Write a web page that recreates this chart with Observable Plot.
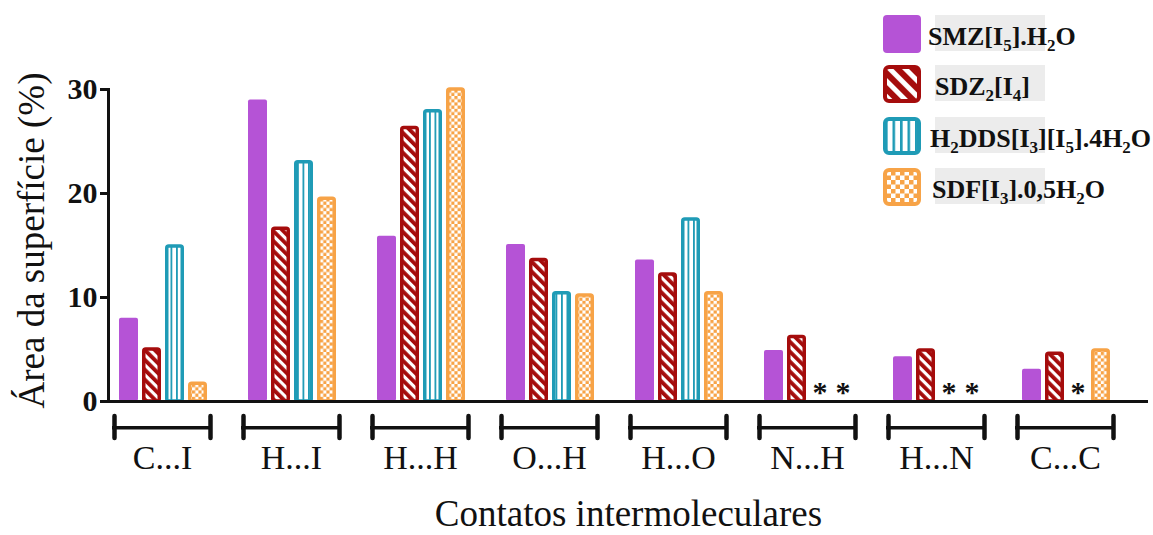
<!DOCTYPE html>
<html>
<head>
<meta charset="utf-8">
<script src="https://cdn.jsdelivr.net/npm/d3@7"></script>
<script src="https://cdn.jsdelivr.net/npm/@observablehq/plot@0.6"></script>
<style>
  body { margin: 0; background: #fff; }
  #chart { position: relative; width: 1153px; height: 535px; font-family: "Liberation Serif", "Times New Roman", serif; }
  #legend { position: absolute; left: 0; top: 0; pointer-events: none; }
</style>
</head>
<body>
<div id="chart"></div>
<script>
// Intermolecular contact categories (x groups)
const contacts = ["C...I", "H...I", "H...H", "O...H", "H...O", "N...H", "H...N", "C...C"];

// Series names; "_" marks the subscript digit that follows
const seriesNames = ["SMZ[I_5].H_2O", "SDZ_2[I_4]", "H_2DDS[I_3][I_5].4H_2O", "SDF[I_3].0,5H_2O"];

// Surface area (%) per contact; null = not observed (drawn as *)
const smz   = [8.0, 29.0, 15.9, 15.1, 13.6, 4.9, 4.3, 3.1];
const sdz   = [5.0, 16.6, 26.3, 13.6, 12.2, 6.2, 4.9, 4.6];
const h2dds = [14.9, 23.0, 27.9, 10.4, 17.5, null, null, null];
const sdf   = [1.7, 19.5, 30.0, 10.2, 10.4, null, null, 4.9];

const yTicks = [0, 10, 20, 30];
const yLabel = "Área da superfície (%)";
const xLabel = "Contatos intermoleculares";

// ---- styling ----
const purple = "#b553d6", red = "#a50c0c", teal = "#1f9bb6", orange = "#f7a347";
const groupStart = 110, groupStep = 129.5, groupWidth = 100;
const barOffsets = [7, 30, 53, 76], barW = 19, sw = 3.5;

const seriesValues = [smz, sdz, h2dds, sdf];
const rows = seriesValues.flatMap((vals, s) => vals.map((v, k) => ({c: contacts[k], s, v})));

function patternDefs() {
  const ns = "http://www.w3.org/2000/svg";
  const defs = document.createElementNS(ns, "defs");
  const hatch = (id, s) => `<pattern id="${id}" width="${s}" height="${s}" patternUnits="userSpaceOnUse" patternTransform="rotate(-45)">
      <rect width="${s}" height="${s}" fill="#fff"/><rect width="${s * 0.55}" height="${s}" fill="${red}"/></pattern>`;
  const vlines = (id, s, w) => `<pattern id="${id}" width="${s}" height="${s}" patternUnits="userSpaceOnUse">
      <rect width="${s}" height="${s}" fill="#fff"/><rect width="${w}" height="${s}" fill="${teal}"/></pattern>`;
  const checker = (id, c) => `<pattern id="${id}" width="${2 * c}" height="${2 * c}" patternUnits="userSpaceOnUse">
      <rect width="${2 * c}" height="${2 * c}" fill="#fff"/><rect width="${c}" height="${c}" fill="${orange}"/>
      <rect x="${c}" y="${c}" width="${c}" height="${c}" fill="${orange}"/></pattern>`;
  defs.innerHTML = hatch("hatch", 7) + vlines("vlines", 5.5, 1.8) + checker("checker", 3.2)
    + hatch("hatchL", 11) + vlines("vlinesL", 7.5, 2.6) + checker("checkerL", 4.5);
  return defs;
}

const looks = [
  {fill: purple, stroke: "none", legendFill: purple},
  {fill: "url(#hatch)", stroke: red, legendFill: "url(#hatchL)"},
  {fill: "url(#vlines)", stroke: teal, legendFill: "url(#vlinesL)"},
  {fill: "url(#checker)", stroke: orange, legendFill: "url(#checkerL)"}
];

const bars = looks.map((look, i) => {
  const pad = i === 0 ? 0 : sw / 2;
  return Plot.barY(rows.filter(r => r.s === i && r.v != null), {
    x: "c", y: "v",
    fill: look.fill, stroke: look.stroke, strokeWidth: i === 0 ? 0 : sw,
    insetLeft: barOffsets[i] + pad,
    insetRight: groupWidth - barOffsets[i] - barW + pad,
    rx: 2
  });
});

const missing = rows.filter(r => r.v == null);

const plot = Plot.plot({
  width: 1153,
  height: 535,
  marginLeft: 108,
  marginRight: 5,
  marginTop: 89,
  marginBottom: 134,
  style: {fontFamily: "Liberation Serif, Times New Roman, serif", color: "#111", background: "#fff", overflow: "visible"},
  x: {
    type: "band", domain: contacts,
    range: [groupStart, groupStart + 7 * groupStep + groupWidth],
    paddingInner: (groupStep - groupWidth) / groupStep, paddingOuter: 0,
    axis: null
  },
  y: {domain: [0, 30], axis: null},
  marks: [
    patternDefs,
    ...bars,
    // asterisks where a contact is absent
    ...[2, 3].map(i => Plot.text(missing.filter(r => r.s === i), {
      x: "c", y: 0, text: () => "*",
      dx: barOffsets[i] + barW / 2 - groupWidth / 2, dy: -9,
      fontSize: 30, fontWeight: "bold", fill: "#111"
    })),
    Plot.ruleY([0], {strokeWidth: 3, stroke: "#111"}),
    Plot.frame({anchor: "left", strokeWidth: 3, stroke: "#111"}),
    Plot.axisY(yTicks, {tickSize: 8, tickPadding: 3, strokeWidth: 3, fontSize: 30, fontWeight: "bold", label: null}),
    Plot.text([yLabel], {frameAnchor: "left", textAnchor: "middle", rotate: -90, dx: -76, dy: -5, fontSize: 37, fill: "#111"}),
    // grouped-axis brackets under each contact
    Plot.tickY(contacts, {x: d => d, y: -2.53, strokeWidth: 3.5, stroke: "#111"}),
    Plot.ruleX(contacts, {x: d => d, y1: -1.45, y2: -3.55, dx: -groupWidth / 2 + 2, strokeWidth: 4.5, strokeLinecap: "round", stroke: "#111"}),
    Plot.ruleX(contacts, {x: d => d, y1: -1.45, y2: -3.55, dx: groupWidth / 2 - 2, strokeWidth: 4.5, strokeLinecap: "round", stroke: "#111"}),
    Plot.axisX({tickSize: 0, tickPadding: 43, fontSize: 34, label: null}),
    Plot.text([xLabel], {frameAnchor: "bottom", dy: 124, fontSize: 37, fill: "#111"})
  ]
});

const chart = document.getElementById("chart");
chart.appendChild(plot);

// ---- legend (top right, over the plot area) ----
const ns = "http://www.w3.org/2000/svg";
const leg = document.createElementNS(ns, "svg");
leg.setAttribute("id", "legend");
leg.setAttribute("width", 1153);
leg.setAttribute("height", 535);
const swatchTops = [15, 65, 117, 168];
const labelX = [928, 935, 930, 932];

function richText(el, str) {
  const parts = str.split(/(_\d)/).filter(p => p);
  let shifted = false;
  for (const p of parts) {
    const t = document.createElementNS(ns, "tspan");
    if (p.startsWith("_")) {
      t.textContent = p.slice(1);
      t.setAttribute("font-size", 17);
      t.setAttribute("dy", 6);
      shifted = true;
    } else {
      t.textContent = p;
      if (shifted) { t.setAttribute("dy", -6); shifted = false; }
    }
    el.appendChild(t);
  }
}

seriesNames.forEach((name, i) => {
  const top = swatchTops[i];
  const bg = document.createElementNS(ns, "rect");
  bg.setAttribute("x", 935); bg.setAttribute("y", top);
  bg.setAttribute("width", 110); bg.setAttribute("height", 36);
  bg.setAttribute("fill", "#ececec");
  leg.appendChild(bg);

  const sq = document.createElementNS(ns, "rect");
  const inset = i === 0 ? 0 : 2;
  sq.setAttribute("x", 883 + inset); sq.setAttribute("y", top + inset);
  sq.setAttribute("width", 38 - 2 * inset); sq.setAttribute("height", 38 - 2 * inset);
  sq.setAttribute("rx", 4);
  sq.setAttribute("fill", looks[i].legendFill);
  if (i > 0) { sq.setAttribute("stroke", looks[i].stroke); sq.setAttribute("stroke-width", 4); }
  leg.appendChild(sq);

  const tx = document.createElementNS(ns, "text");
  tx.setAttribute("x", labelX[i]);
  tx.setAttribute("y", top + 30);
  tx.setAttribute("font-family", "Liberation Serif, Times New Roman, serif");
  tx.setAttribute("font-weight", "bold");
  tx.setAttribute("font-size", 26);
  tx.setAttribute("fill", "#111");
  richText(tx, name);
  leg.appendChild(tx);
});
chart.appendChild(leg);
</script>
</body>
</html>
